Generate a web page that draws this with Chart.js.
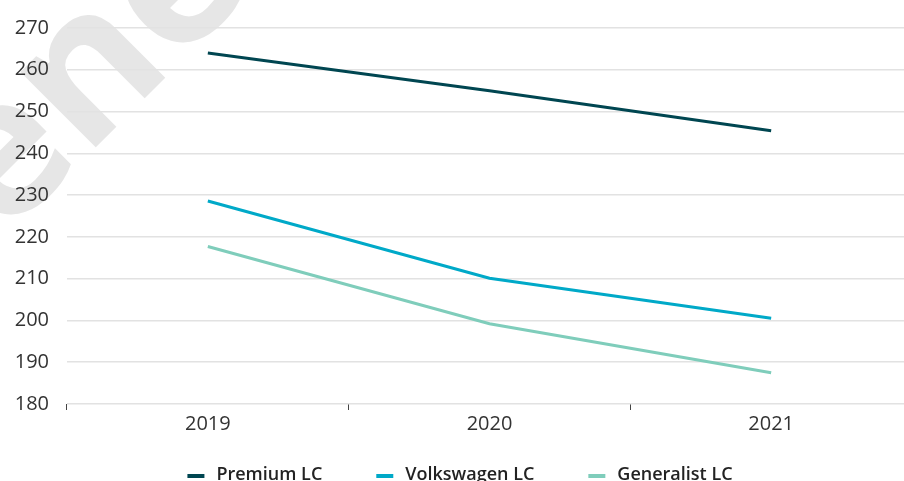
<!DOCTYPE html>
<html>
<head>
<meta charset="utf-8">
<script src="https://cdn.jsdelivr.net/npm/chart.js@4.4.1/dist/chart.umd.min.js"></script>
<style>
  html, body { margin: 0; padding: 0; background: #fff; overflow: hidden; }
  #wrap { position: relative; width: 912px; height: 490px; }
</style>
</head>
<body>
<div id="wrap"><canvas id="chart"></canvas></div>
<script>
// Years on the x axis
const years = ['2019', '2020', '2021'];

// Series names, values and colours
const seriesNames = ['Premium LC', 'Volkswagen LC', 'Generalist LC'];
const premiumLC = [264.0, 255.0, 245.4];
const volkswagenLC = [228.6, 210.1, 200.5];
const generalistLC = [217.7, 199.2, 187.5];
const seriesColors = ['#004651', '#00a9c8', '#7fcdbb'];

// Y axis range and step
const yMin = 180;
const yMax = 270;
const yStep = 10;

const FONT = '"Open Sans", "DejaVu Sans", sans-serif';

// Faint background lettering behind the plot
const backdropText = {
  id: 'backdropText',
  beforeDraw(chart) {
    const ctx = chart.ctx;
    const size = 195;
    ctx.save();
    ctx.fillStyle = '#e6e6e6';
    ctx.font = '700 ' + size + 'px ' + FONT;
    ctx.translate(107, 136);
    ctx.rotate(-45 * Math.PI / 180);
    ctx.textBaseline = 'alphabetic';
    ctx.textAlign = 'left';
    const w = ctx.measureText('e').width;
    ctx.fillText('ene', -(w + 0.16 * size), 0);
    ctx.restore();
  }
};

// Single-row legend under the axis, items spread with wide gaps
const rowLegend = {
  id: 'rowLegend',
  afterDraw(chart, args, opts) {
    const ctx = chart.ctx;
    const gap = opts.gap, box = opts.boxWidth, textGap = opts.textGap;
    ctx.save();
    ctx.font = opts.font;
    const items = chart.data.datasets.map(ds => ({
      text: ds.label,
      color: ds.borderColor,
      w: box + textGap + ctx.measureText(ds.label).width
    }));
    const total = items.reduce((s, it) => s + it.w, 0) + gap * (items.length - 1);
    let x = opts.centerX - total / 2;
    ctx.textBaseline = 'alphabetic';
    ctx.textAlign = 'left';
    items.forEach(it => {
      ctx.fillStyle = it.color;
      ctx.fillRect(x, opts.boxY - opts.boxHeight / 2, box, opts.boxHeight);
      ctx.fillStyle = opts.color;
      ctx.fillText(it.text, x + box + textGap, opts.baseline);
      x += it.w + gap;
    });
    ctx.restore();
  }
};

const valueSets = [premiumLC, volkswagenLC, generalistLC];

new Chart(document.getElementById('chart'), {
  type: 'line',
  data: {
    labels: years,
    datasets: seriesNames.map((name, i) => ({
      label: name,
      data: valueSets[i],
      borderColor: seriesColors[i],
      backgroundColor: seriesColors[i]
    }))
  },
  options: {
    responsive: true,
    maintainAspectRatio: false,
    animation: false,
    devicePixelRatio: 1,
    elements: {
      line: { borderWidth: 3, tension: 0, borderCapStyle: 'butt' },
      point: { radius: 0, hoverRadius: 0 }
    },
    layout: { padding: { left: 15, right: 0, top: 12, bottom: 52 } },
    plugins: {
      tooltip: { enabled: false },
      legend: { display: false },
      rowLegend: {
        centerX: 460,
        baseline: 480,
        boxY: 476,
        gap: 54,
        boxWidth: 17,
        boxHeight: 4,
        textGap: 12,
        color: '#222',
        font: '600 18px ' + FONT
      }
    },
    scales: {
      x: {
        offset: true,
        grid: {
          offset: true,
          drawOnChartArea: false,
          drawTicks: true,
          tickLength: 6,
          tickColor: '#444',
          tickWidth: 1
        },
        border: { display: false },
        ticks: {
          padding: 2,
          color: '#333',
          font: { family: FONT, size: 20 }
        }
      },
      y: {
        min: yMin,
        max: yMax,
        afterFit(scale) { scale.width = 52; },
        grid: { color: '#e2e2e2', lineWidth: 1.5, drawTicks: false },
        border: { display: false },
        ticks: {
          stepSize: yStep,
          padding: 18,
          color: '#333',
          font: { family: FONT, size: 20, lineHeight: 1 }
        }
      }
    }
  },
  plugins: [backdropText, rowLegend]
});
</script>
</body>
</html>
